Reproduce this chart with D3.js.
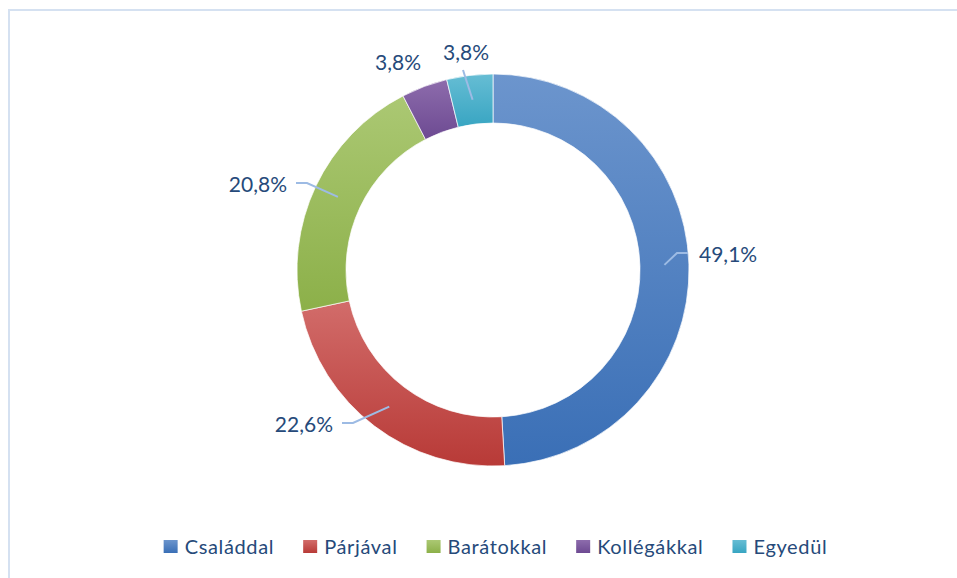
<!DOCTYPE html>
<html>
<head>
<meta charset="utf-8">
<script src="https://cdn.jsdelivr.net/npm/d3@7"></script>
<style>
  body { margin: 0; background: #fff; }
  svg { display: block; font-family: Lato, "Open Sans", sans-serif; }
</style>
</head>
<body>
<svg id="chart"></svg>
<script>
const categories = ["Családdal", "Párjával", "Barátokkal", "Kollégákkal", "Egyedül"];
const values = [49.1, 22.6, 20.8, 3.8, 3.8];
const labels = ["49,1%", "22,6%", "20,8%", "3,8%", "3,8%"];
const colorsTop = ["#6c95cd", "#d26c6a", "#abc873", "#8d6cac", "#66bdd4"];
const colorsBottom = ["#3a6fb6", "#b83a37", "#8cb049", "#6d4a92", "#38a5c2"];

// where Excel put each data label (offset from the pie centre)
const labelLayout = [
    { dx: 206, dy: -16, anchor: 'start', leader: 'elbow' },
    { dx: -160, dy: 154, anchor: 'end', leader: 'elbow' },
    { dx: -206, dy: -86, anchor: 'end', leader: 'elbow' },
    { dx: -95, dy: -208, anchor: 'middle', leader: null },
    { dx: -27, dy: -218, anchor: 'middle', leader: 'straight' }
];

const width = 957;
const height = 578;
const cx = 493, cy = 270;
const rOuter = 196, rInner = 147;
const textColor = '#264a7a';

const svg = d3.select('#chart')
    .attr('width', width)
    .attr('height', height);

// chart area border (runs off the right and bottom edges)
svg.append('rect')
    .attr('x', 9).attr('y', 10)
    .attr('width', width + 10).attr('height', height + 10)
    .attr('fill', 'none')
    .attr('stroke', '#d5e1f1')
    .attr('stroke-width', 2);

const defs = svg.append('defs');
categories.forEach((c, i) => {
    const g = defs.append('linearGradient')
        .attr('id', 'grad' + i)
        .attr('x1', 0).attr('y1', 0).attr('x2', 0).attr('y2', 1);
    g.append('stop').attr('offset', '0%').attr('stop-color', colorsTop[i]);
    g.append('stop').attr('offset', '100%').attr('stop-color', colorsBottom[i]);
});

const pie = d3.pie().sort(null).value(d => d);
const arcs = pie(values);
const arc = d3.arc().innerRadius(rInner).outerRadius(rOuter);

const g = svg.append('g').attr('transform', `translate(${cx}, ${cy})`);

g.selectAll('path.slice')
    .data(arcs)
    .enter().append('path')
    .attr('class', 'slice')
    .attr('d', arc)
    .attr('fill', (d, i) => `url(#grad${i})`)
    .attr('stroke', 'rgba(255,255,255,0.7)')
    .attr('stroke-width', 1);

// leader lines
const line = d3.line();
arcs.forEach((d, i) => {
    const L = labelLayout[i];
    if (!L.leader) return;
    const c = arc.centroid(d);
    let pts;
    if (L.leader === 'elbow') {
        const y = L.dy - 1;
        const edge = L.anchor === 'start' ? L.dx - 11 : L.dx + 9;
        const elbow = L.anchor === 'start' ? edge - 11 : edge + 11;
        pts = [c, [elbow, y], [edge, y]];
    } else {
        pts = [c, [L.dx - 3, L.dy + 18]];
    }
    g.append('path')
        .attr('d', line(pts))
        .attr('fill', 'none')
        .attr('stroke', '#9dbbe4')
        .attr('stroke-width', 2);
});

g.selectAll('text.lbl')
    .data(arcs)
    .enter().append('text')
    .attr('class', 'lbl')
    .attr('x', (d, i) => labelLayout[i].dx)
    .attr('y', (d, i) => labelLayout[i].dy)
    .attr('dy', '0.36em')
    .attr('text-anchor', (d, i) => labelLayout[i].anchor)
    .attr('font-size', 21)
    .attr('fill', textColor)
    .text((d, i) => labels[i]);

// legend
const legend = svg.append('g');
const items = legend.selectAll('g')
    .data(categories)
    .enter().append('g');
items.append('rect')
    .attr('width', 14).attr('height', 13)
    .attr('y', -7)
    .attr('fill', (d, i) => `url(#grad${i})`);
items.append('text')
    .attr('x', 21)
    .attr('dy', '0.36em')
    .attr('font-size', 20)
    .attr('letter-spacing', 0.65)
    .attr('fill', textColor)
    .text(d => d);

let xPos = 0;
items.each(function () {
    const w = 21 + d3.select(this).select('text').node().getComputedTextLength();
    d3.select(this).attr('transform', `translate(${xPos}, 0)`);
    xPos += w + 29;
});
const total = xPos - 29;
legend.attr('transform', `translate(${495.5 - total / 2}, 547)`);
</script>
</body>
</html>
